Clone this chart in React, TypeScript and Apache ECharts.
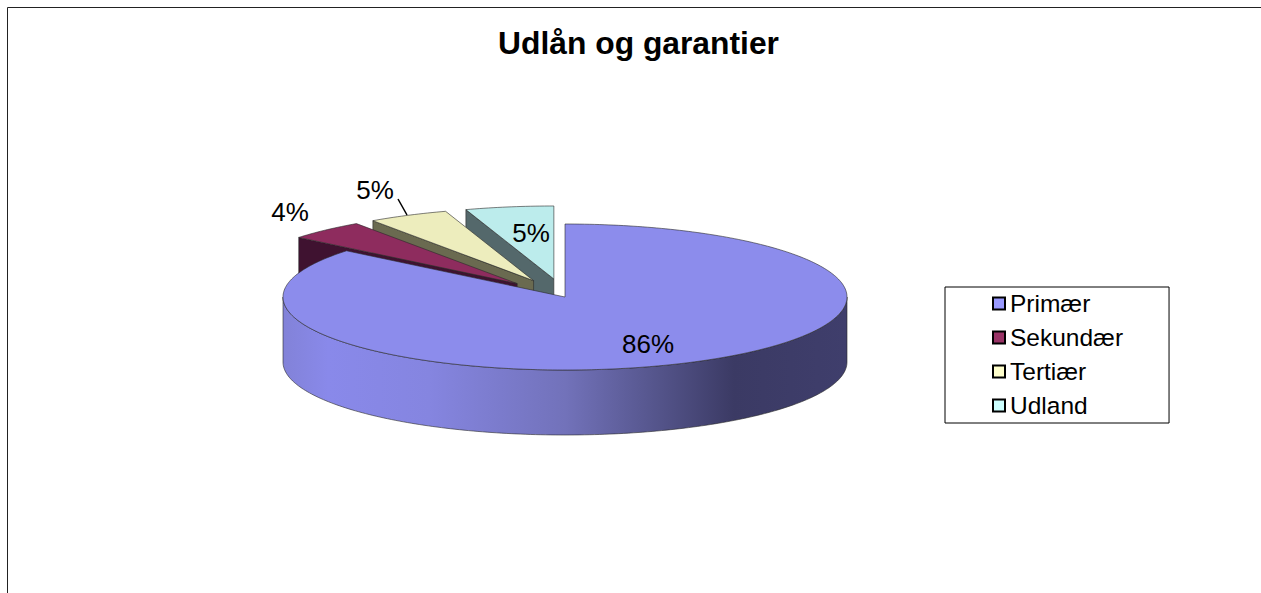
import React, { useEffect, useRef } from "react";
import * as echarts from "echarts";

const TITLE = "Udlån og garantier";
const categories = ["Primær", "Sekundær", "Tertiær", "Udland"];
const values = [85.9, 4.45, 4.6, 5.05];
const exploded = [0, 0.25, 0.25, 0.25];

const legendColors = ["#9999ff", "#993366", "#ffffcc", "#ccffff"];
const topColors = ["#8c8cec", "#8e2c5e", "#ededbd", "#bcecec"];
const wallColors = ["#6f6fb5", "#3f1230", "#6a6a50", "#54686b"];
const FONT = '"Liberation Sans", Arial, sans-serif';

const CX = 565, CY = 297, RX = 282, RY = 73, DEPTH = 65;
const total = values.reduce((a, b) => a + b, 0);
const startOf = (i: number) => values.slice(0, i).reduce((a, b) => a + b, 0) / total * 360;

const labelAnchors = [
  { x: 648, y: 344 },
  { x: 290, y: 212 },
  { x: 375, y: 190 },
  { x: 531, y: 233 },
];

function rim(cx: number, cy: number, deg: number): number[] {
  const t = (deg * Math.PI) / 180;
  return [cx + RX * Math.sin(t), cy - RY * Math.cos(t)];
}
function arc(cx: number, cy: number, a: number, b: number): number[][] {
  const pts: number[][] = [];
  const n = Math.max(2, Math.ceil(Math.abs(b - a)));
  for (let k = 0; k <= n; k++) pts.push(rim(cx, cy, a + ((b - a) * k) / n));
  return pts;
}

function makeRender(i: number) {
  return (_params: any, api: any) => {
    const value = api.value(0);
    const a = startOf(i);
    const b = a + (value / total) * 360;
    const mid = ((a + b) / 2) * Math.PI / 180;
    const cx = CX + exploded[i] * RX * Math.sin(mid);
    const cy = CY - exploded[i] * RY * Math.cos(mid);
    const edge = { stroke: "#2a2a2a", lineWidth: 0.6 };
    const children: any[] = [];

    if (i === 0) {
      const upper = arc(cx, cy, 90, 270);
      const lower = upper.map((p) => [p[0], p[1] + DEPTH]).reverse();
      children.push({
        type: "polygon",
        shape: { points: [...upper, ...lower] },
        style: {
          ...edge,
          fill: new echarts.graphic.LinearGradient(0, 0, 1, 0, [
            { offset: 0, color: "#8282d8" },
            { offset: 0.08, color: "#8989ea" },
            { offset: 0.26, color: "#8585e0" },
            { offset: 0.5, color: "#7272ba" },
            { offset: 0.66, color: "#55558c" },
            { offset: 0.8, color: "#3b3a64" },
            { offset: 1, color: "#3f3e6c" },
          ]),
        },
      });
    } else {
      const outer = rim(cx, cy, a);
      children.push({
        type: "polygon",
        shape: {
          points: [
            outer,
            [cx, cy],
            [cx, cy + DEPTH],
            [outer[0], outer[1] + DEPTH],
          ],
        },
        style: { ...edge, fill: wallColors[i] },
      });
    }

    children.push({
      type: "polygon",
      shape: { points: [[cx, cy], ...arc(cx, cy, a, b)] },
      style: { ...edge, fill: topColors[i] },
    });

    if (i === 2) {
      children.push({
        type: "line",
        shape: { x1: 398, y1: 199, x2: 407, y2: 215 },
        style: { stroke: "#000", lineWidth: 1.5 },
      });
    }

    children.push({
      type: "text",
      style: {
        text: `${Math.round(value)}%`,
        x: labelAnchors[i].x,
        y: labelAnchors[i].y,
        align: "center",
        verticalAlign: "middle",
        fontFamily: FONT,
        fontSize: 26,
        fill: "#000",
      },
    });

    return { type: "group", children };
  };
}

export default function App() {
  const ref = useRef<HTMLDivElement>(null);
  useEffect(() => {
    document.body.style.margin = "0";
    document.body.style.overflow = "hidden";
    const chart = echarts.init(ref.current!, undefined, { renderer: "svg" });
    chart.setOption({
      animation: false,
      backgroundColor: "#fff",
      title: {
        text: TITLE,
        left: 633.5,
        top: 22,
        textAlign: "center",
        textStyle: { fontFamily: FONT, fontSize: 31.8, fontWeight: "bold", color: "#000" },
      },
      legend: {
        orient: "vertical",
        left: 945,
        top: 287,
        padding: [4, 46, 5, 47],
        itemGap: 9,
        itemWidth: 12,
        itemHeight: 12,
        icon: "rect",
        data: categories,
        borderColor: "#000",
        borderWidth: 1,
        backgroundColor: "#fff",
        itemStyle: { borderColor: "#000", borderWidth: 2 },
        textStyle: {
          fontFamily: FONT,
          fontSize: 24.5,
          lineHeight: 24,
          color: "#000",
        },
        selectedMode: false,
      },
      graphic: [
        {
          type: "rect",
          silent: true,
          z: -1,
          shape: { x: 7.5, y: 7.5, width: 1400, height: 800 },
          style: { fill: "none", stroke: "#222", lineWidth: 1 },
        },
      ],
      series: categories.map((name, i) => ({
        type: "custom",
        name,
        coordinateSystem: "none",
        z: i === 0 ? 10 : 5 - i + 2,
        silent: true,
        itemStyle: { color: legendColors[i] },
        renderItem: makeRender(i),
        data: [[values[i]]],
      })),
    });
    return () => chart.dispose();
  }, []);
  return <div ref={ref} style={{ width: 1261, height: 593 }} />;
}
